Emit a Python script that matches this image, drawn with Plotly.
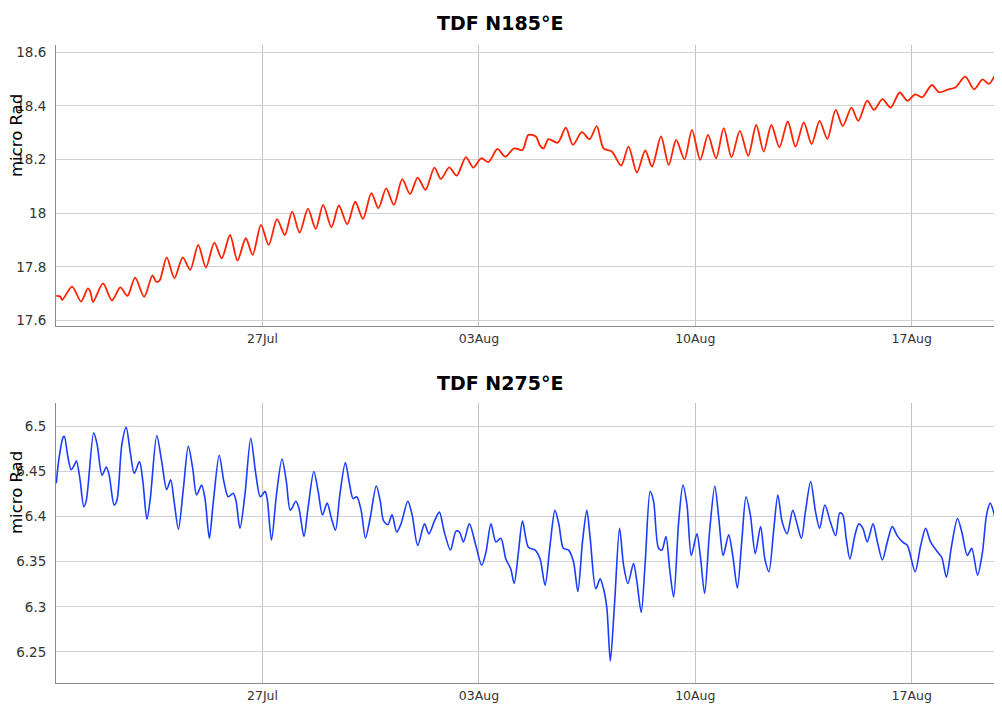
import pandas as pd
import plotly.graph_objects as go
from plotly.subplots import make_subplots

# time in days relative to 27 Jul 00:00, values in micro Rad
base_date = "2015-07-27"

top_t = [-6.67, -6.54, -6.48, -6.16, -5.87, -5.65, -5.57, -5.48, -5.16, -4.87,
         -4.60, -4.37, -4.12, -3.83, -3.56, -3.44, -3.33, -3.10, -2.85, -2.58,
         -2.34, -2.08, -1.83, -1.56, -1.32, -1.05, -0.81, -0.54, -0.32, -0.05,
         0.20, 0.47, 0.72, 0.96, 1.20, 1.47, 1.72, 1.96, 2.23, 2.47,
         2.74, 3.00, 3.25, 3.52, 3.75, 4.00, 4.25, 4.52, 4.77, 5.02,
         5.27, 5.56, 5.77, 6.04, 6.28, 6.58, 6.82, 7.07, 7.31, 7.60,
         7.85, 8.14, 8.41, 8.60,
         8.84, 8.98, 9.09, 9.25, 9.55, 9.81, 10.04, 10.33, 10.58, 10.81,
         11.03, 11.30, 11.60, 11.84, 12.11, 12.38, 12.60, 12.89, 13.14, 13.38,
         13.65, 13.89, 14.16, 14.41, 14.67, 14.92, 15.17, 15.44, 15.71, 15.97,
         16.21, 16.46, 16.72, 16.99, 17.24, 17.51, 17.76, 18.02, 18.27, 18.54,
         18.77, 19.05, 19.27, 19.56, 19.78, 20.05, 20.32, 20.61, 20.86, 21.11,
         21.34, 21.65, 21.88, 22.15, 22.42, 22.73, 23.02, 23.29, 23.50, 23.77,
         23.94]
top_v = [17.692, 17.690, 17.677, 17.727, 17.671, 17.720, 17.708, 17.670, 17.739, 17.675,
         17.724, 17.692, 17.760, 17.689, 17.769, 17.745, 17.749, 17.836, 17.758, 17.836,
         17.789, 17.882, 17.798, 17.891, 17.832, 17.919, 17.824, 17.907, 17.845, 17.957,
         17.882, 17.978, 17.919, 18.006, 17.928, 18.017, 17.942, 18.031, 17.948, 18.029,
         17.959, 18.043, 17.979, 18.075, 18.019, 18.093, 18.031, 18.127, 18.072, 18.133,
         18.087, 18.170, 18.128, 18.171, 18.140, 18.209, 18.170, 18.205, 18.191, 18.240,
         18.211, 18.242, 18.236, 18.292,
         18.286, 18.251, 18.242, 18.276, 18.263, 18.319, 18.255, 18.302, 18.276, 18.325,
         18.242, 18.230, 18.178, 18.248, 18.152, 18.234, 18.174, 18.286, 18.180, 18.273,
         18.201, 18.311, 18.199, 18.292, 18.205, 18.317, 18.209, 18.307, 18.214, 18.329,
         18.230, 18.329, 18.246, 18.342, 18.248, 18.339, 18.258, 18.344, 18.277, 18.385,
         18.325, 18.394, 18.344, 18.420, 18.385, 18.425, 18.394, 18.450, 18.419, 18.443,
         18.432, 18.478, 18.451, 18.460, 18.470, 18.509, 18.462, 18.499, 18.482, 18.524,
         18.512]

bot_t = [-6.67, -6.59, -6.45, -6.41, -6.30, -6.19, -6.09, -6.02, -5.91, -5.78,
         -5.70, -5.46, -5.35, -5.19, -5.05, -4.96, -4.80, -4.71, -4.55, -4.41,
         -4.28, -4.15, -3.98, -3.87, -3.74, -3.63, -3.42, -3.26, -3.10, -2.97,
         -2.86, -2.72, -2.56, -2.40, -2.26, -2.13, -1.97, -1.86, -1.72, -1.59,
         -1.40, -1.25, -1.11, -0.95, -0.86, -0.73, -0.57, -0.38, -0.22, -0.07,
         0.08, 0.15, 0.29, 0.45, 0.63, 0.77, 0.90, 1.08, 1.18, 1.34,
         1.47, 1.66, 1.80, 1.94, 2.09, 2.23, 2.36, 2.50, 2.68, 2.80,
         2.93, 3.05, 3.19, 3.33, 3.48, 3.68, 3.81, 3.91, 4.05, 4.19,
         4.34, 4.48, 4.70, 4.84, 5.02, 5.24, 5.38, 5.56, 5.72, 5.88,
         6.08, 6.26, 6.37, 6.50, 6.69, 6.90, 7.09, 7.23, 7.39, 7.55,
         7.71, 7.87, 8.03, 8.14, 8.28, 8.41, 8.60,
         8.82, 8.98, 9.14, 9.30, 9.46, 9.59, 9.73, 9.90, 10.06, 10.20,
         10.35, 10.49, 10.60, 10.78, 10.92, 11.03, 11.14, 11.25, 11.39, 11.55,
         11.68, 11.82, 12.00, 12.11, 12.25, 12.38, 12.54, 12.65, 12.81, 12.92,
         13.05, 13.17, 13.30, 13.46, 13.60, 13.73, 13.87, 14.05, 14.16, 14.30,
         14.46, 14.63, 14.76, 14.90, 15.08, 15.21, 15.36, 15.51, 15.64, 15.78,
         15.94, 16.11, 16.25, 16.38, 16.54, 16.67, 16.81, 16.97, 17.15, 17.29,
         17.43, 17.56, 17.73, 17.89, 18.02, 18.19, 18.37, 18.54, 18.67, 18.77,
         18.88, 19.00, 19.16, 19.29, 19.42, 19.56, 19.75, 19.89, 20.05, 20.21,
         20.37, 20.53, 20.70, 20.86, 21.11, 21.29, 21.45, 21.61, 21.83, 21.97,
         22.12, 22.29, 22.48, 22.62, 22.80, 22.94, 23.13, 23.29, 23.42, 23.54,
         23.70, 23.81, 23.94]
bot_v = [6.437, 6.463, 6.488, 6.489, 6.467, 6.452, 6.457, 6.462, 6.443, 6.411,
         6.418, 6.493, 6.480, 6.446, 6.455, 6.446, 6.413, 6.418, 6.480, 6.499,
         6.472, 6.448, 6.461, 6.439, 6.397, 6.420, 6.490, 6.461, 6.430, 6.441,
         6.417, 6.386, 6.431, 6.478, 6.454, 6.424, 6.435, 6.420, 6.376, 6.417,
         6.468, 6.439, 6.422, 6.426, 6.418, 6.387, 6.424, 6.487, 6.448, 6.422,
         6.428, 6.420, 6.374, 6.424, 6.464, 6.439, 6.407, 6.417, 6.409, 6.378,
         6.409, 6.450, 6.428, 6.402, 6.415, 6.398, 6.385, 6.424, 6.460, 6.439,
         6.420, 6.422, 6.407, 6.376, 6.398, 6.434, 6.417, 6.396, 6.391, 6.402,
         6.383, 6.392, 6.417, 6.402, 6.368, 6.392, 6.381, 6.395, 6.405, 6.383,
         6.363, 6.384, 6.383, 6.372, 6.392, 6.368, 6.346, 6.361, 6.392, 6.372,
         6.376, 6.353, 6.342, 6.326, 6.361, 6.395, 6.366,
         6.363, 6.353, 6.324, 6.368, 6.407, 6.391, 6.365, 6.363, 6.350, 6.317,
         6.372, 6.407, 6.376, 6.320, 6.331, 6.320, 6.298, 6.240, 6.305, 6.387,
         6.346, 6.326, 6.348, 6.328, 6.294, 6.350, 6.428, 6.417, 6.365, 6.363,
         6.378, 6.342, 6.311, 6.394, 6.435, 6.413, 6.357, 6.381, 6.357, 6.315,
         6.383, 6.434, 6.398, 6.357, 6.380, 6.357, 6.321, 6.376, 6.422, 6.402,
         6.359, 6.389, 6.353, 6.339, 6.387, 6.424, 6.394, 6.381, 6.407, 6.392,
         6.376, 6.405, 6.439, 6.405, 6.387, 6.413, 6.394, 6.379, 6.404, 6.402,
         6.376, 6.353, 6.379, 6.392, 6.387, 6.372, 6.392, 6.372, 6.352, 6.372,
         6.389, 6.379, 6.372, 6.368, 6.339, 6.368, 6.387, 6.372, 6.361, 6.355,
         6.333, 6.368, 6.398, 6.383, 6.357, 6.365, 6.335, 6.361, 6.402, 6.415,
         6.398, 6.376, 6.372]

titles = ["TDF N185°E", "TDF N275°E"]
y_title = "micro Rad"
top_ticks = [17.6, 17.8, 18.0, 18.2, 18.4, 18.6]
top_ticktext = ["17.6", "17.8", "18", "18.2", "18.4", "18.6"]
bot_ticks = [6.25, 6.3, 6.35, 6.4, 6.45, 6.5]
bot_ticktext = ["6.25", "6.3", "6.35", "6.4", "6.45", "6.5"]
x_range_days = [-6.68, 23.92]

base = pd.Timestamp(base_date)
def to_dt(ts):
    return [base + pd.Timedelta(days=t) for t in ts]

# the page body adds an 8px margin, so the figure is drawn 8px smaller and shifted
OFF = 8
W, H = 1002 - OFF, 704 - OFF
ml, mr, mt, mb = 56 - OFF, 0, 45 - OFF, 21
pw, ph = W - ml - mr, H - mt - mb
top_dom = [1 - 281 / ph, 1.0]
bot_dom = [0.0, 280 / ph]

fig = make_subplots(rows=2, cols=1, shared_xaxes=False)

fig.add_trace(go.Scatter(x=to_dt(top_t), y=top_v, mode="lines",
                         line=dict(color="#ff2200", width=1.8, shape="spline", smoothing=0.8),
                         showlegend=False, hoverinfo="x+y"), row=1, col=1)
fig.add_trace(go.Scatter(x=to_dt(bot_t), y=bot_v, mode="lines",
                         line=dict(color="#1a3cff", width=1.6, shape="spline", smoothing=0.8),
                         showlegend=False, hoverinfo="x+y"), row=2, col=1)

xr = [base + pd.Timedelta(days=d) for d in x_range_days]
xcommon = dict(range=xr, type="date", tick0=base, dtick=7 * 86400000, tickformat="%d%b",
               showgrid=True, gridcolor="#c4c4c4", gridwidth=1,
               showline=True, linecolor="#8a8a8a", linewidth=1,
               ticks="", ticklen=0, zeroline=False, automargin=False,
               ticklabelstandoff=1,
               tickfont=dict(family="DejaVu Sans", size=12.5, color="#333333"))
ycommon = dict(showgrid=True, gridcolor="#d0d0d0", gridwidth=1,
               showline=True, linecolor="#8a8a8a", linewidth=1,
               ticks="", zeroline=False, ticklabelstandoff=6, automargin=False,
               tickfont=dict(family="DejaVu Sans", size=13.5, color="#333333"))

fig.update_xaxes(**xcommon)
fig.update_layout(
    xaxis=dict(domain=[0, 1]),
    xaxis2=dict(domain=[0, 1]),
    yaxis=dict(domain=top_dom, range=[17.58, 18.627], tickvals=top_ticks,
               ticktext=top_ticktext, **ycommon),
    yaxis2=dict(domain=bot_dom, range=[6.2156, 6.526], tickvals=bot_ticks,
                ticktext=bot_ticktext, **ycommon),
)

# annotation positions given in reference-page pixels
annotations = [
    dict(text="<b>" + titles[0] + "</b>", px=500, py=23,
         font=dict(family="DejaVu Sans", size=19, color="#000000")),
    dict(text="<b>" + titles[1] + "</b>", px=500, py=383,
         font=dict(family="DejaVu Sans", size=19, color="#000000")),
    dict(text=y_title, px=16, py=136, textangle=-90,
         font=dict(family="DejaVu Sans", size=16.5, color="#000000")),
    dict(text=y_title, px=16, py=493, textangle=-90,
         font=dict(family="DejaVu Sans", size=16.5, color="#000000")),
]

final_ann = []
for a in annotations:
    a = dict(a)
    px, py = a.pop("px") - OFF, a.pop("py") - OFF
    a.update(xref="paper", yref="paper", showarrow=False,
             x=(px - ml) / pw, y=(H - mb - py) / ph,
             xanchor="center", yanchor="middle")
    final_ann.append(a)

fig.update_layout(
    width=W, height=H,
    margin=dict(l=ml, r=mr, t=mt, b=mb, autoexpand=False),
    paper_bgcolor="white", plot_bgcolor="white",
    annotations=final_ann,
    showlegend=False,
)

fig.write_html("out.html")
